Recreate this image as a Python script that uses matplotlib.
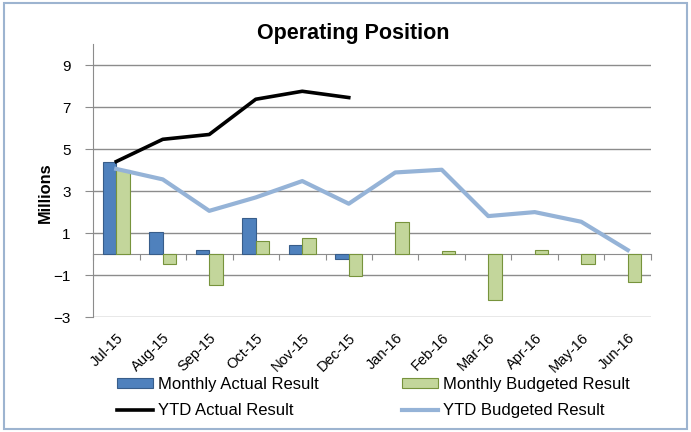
import numpy as np
import matplotlib.pyplot as plt
from matplotlib.patches import Rectangle

plt.rcParams['font.family'] = ['Liberation Sans', 'DejaVu Sans']

months = ["Jul-15", "Aug-15", "Sep-15", "Oct-15", "Nov-15", "Dec-15",
          "Jan-16", "Feb-16", "Mar-16", "Apr-16", "May-16", "Jun-16"]
monthly_actual = [4.41, 1.03, 0.19, 1.70, 0.41, -0.25]
monthly_budget = [4.03, -0.49, -1.49, 0.60, 0.78, -1.06,
                  1.51, 0.14, -2.21, 0.19, -0.49, -1.33]
ytd_actual = [4.41, 5.47, 5.70, 7.38, 7.76, 7.46]
ytd_budget = [4.06, 3.56, 2.06, 2.70, 3.48, 2.40,
              3.89, 4.02, 1.81, 2.00, 1.54, 0.19]
y_ticks = [-3, -1, 1, 3, 5, 7, 9]

fig = plt.figure(figsize=(6.91, 4.32), dpi=100)
ax = fig.add_axes([0.1346, 0.2662, 0.8075, 0.6313])

x = np.arange(len(months))
bw = 0.29
bar_ma = ax.bar(x[:len(monthly_actual)] - bw / 2, monthly_actual, bw,
                color='#4F81BD', edgecolor='#385D8A', linewidth=0.8,
                label='Monthly Actual Result', zorder=3)
bar_mb = ax.bar(x + bw / 2, monthly_budget, bw,
                color='#C3D69B', edgecolor='#77933C', linewidth=0.8,
                label='Monthly Budgeted Result', zorder=3)
line_ya, = ax.plot(x[:len(ytd_actual)], ytd_actual, color='black', lw=2.6,
                   label='YTD Actual Result', zorder=4)
line_yb, = ax.plot(x, ytd_budget, color='#95B3D7', lw=3.0,
                   label='YTD Budgeted Result', zorder=4)

ax.set_xlim(-0.5, len(months) - 0.5)
ax.set_ylim(-3, 10.0)
ax.set_yticks(y_ticks)
ax.yaxis.grid(True, color='#8C8C8C', lw=1.0)
ax.set_axisbelow(True)
ax.tick_params(axis='y', length=6, color='#8C8C8C', labelsize=11, pad=10)

for s in ['top', 'right']:
    ax.spines[s].set_visible(False)
ax.spines['left'].set_color('#8C8C8C')
ax.spines['bottom'].set_position(('data', 0))
ax.spines['bottom'].set_color('#8C8C8C')
ax.set_xticks(np.arange(-0.5, len(months), 1.0))
ax.tick_params(axis='x', length=4, color='#8C8C8C', labelbottom=False)

sec = ax.secondary_xaxis('bottom')
sec.set_xticks(x, months)
sec.tick_params(length=0, pad=10, labelsize=10.5)
sec.spines['bottom'].set_visible(False)
for lab in sec.get_xticklabels():
    lab.set_rotation(45)
    lab.set_ha('right')
    lab.set_rotation_mode('anchor')

ax.set_ylabel('Millions', fontsize=11.8, fontweight='bold')
ax.yaxis.set_label_coords(-0.0716, 0.455)
fig.text(353 / 691, 1 - 33 / 432, 'Operating Position', fontsize=15.5,
         fontweight='bold', ha='center', va='center')

# column-wise fill: first column actuals, second column budgets
fig.legend([bar_ma, line_ya, bar_mb, line_yb],
           ['Monthly Actual Result', 'YTD Actual Result',
            'Monthly Budgeted Result', 'YTD Budgeted Result'],
           ncol=2, loc='upper left', bbox_to_anchor=(117 / 691, 1 - 377 / 432),
           frameon=False, fontsize=12, handlelength=2.16,
           handleheight=0.5, handletextpad=0.3, columnspacing=4.98,
           labelspacing=0.65, borderpad=0, borderaxespad=0)

fig.patches.append(Rectangle((0.006, 0.006), 0.988, 0.988,
                             transform=fig.transFigure, fill=False,
                             edgecolor='#9DB4D0', lw=1.5))

fig.savefig('out.png', dpi=100)
